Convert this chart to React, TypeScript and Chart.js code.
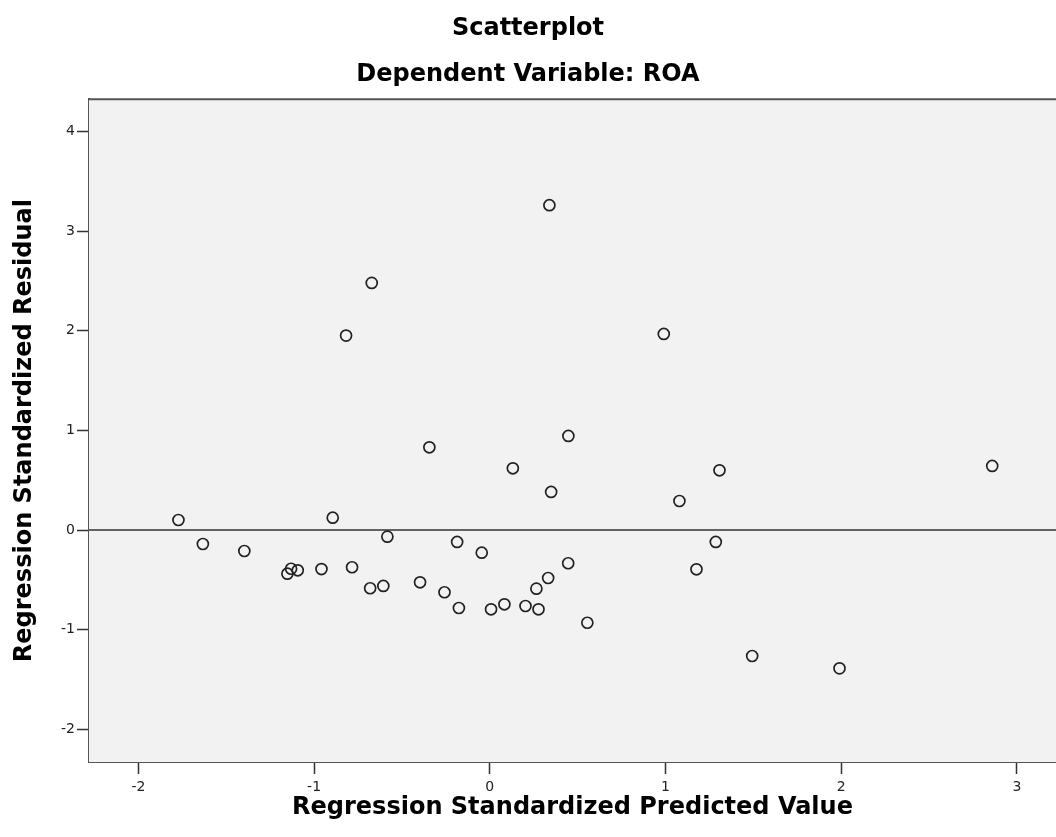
import React, { useEffect, useRef } from "react";
import { Chart, registerables } from "chart.js";

Chart.register(...registerables);

const predictedValues = [
  -1.772, -1.633, -1.397, -1.152, -1.131, -1.093, -0.958, -0.894, -0.784, -0.818,
  -0.681, -0.672, -0.606, -0.583, -0.397, -0.344, -0.258, -0.186, -0.176, -0.046,
  0.007, 0.083, 0.131, 0.203, 0.265, 0.277, 0.332, 0.339, 0.349, 0.446,
  0.447, 0.555, 0.99, 1.079, 1.176, 1.286, 1.307, 1.493, 1.99, 2.859,
];
const residualValues = [
  0.101, -0.14, -0.21, -0.438, -0.388, -0.404, -0.391, 0.124, -0.373, 1.952,
  -0.584, 2.481, -0.561, -0.066, -0.524, 0.831, -0.624, -0.119, -0.782, -0.227,
  -0.795, -0.745, 0.62, -0.762, -0.588, -0.795, -0.481, 3.261, 0.383, -0.333,
  0.945, -0.93, 1.969, 0.292, -0.394, -0.119, 0.6, -1.264, -1.388, 0.644,
];
const xTickValues = [-2, -1, 0, 1, 2, 3];
const yTickValues = [-2, -1, 0, 1, 2, 3, 4];
const referenceY = [0];

const chartTitle = "Scatterplot";
const chartSubtitle = "Dependent Variable: ROA";
const xAxisTitle = "Regression Standardized Predicted Value";
const yAxisTitle = "Regression Standardized Residual";

const TITLE_FONT = "'DejaVu Sans', sans-serif";
const TICK_FONT = "'DejaVu Sans', sans-serif";

const plotFrame = {
  id: "plotFrame",
  beforeDatasetsDraw(chart: any) {
    const { ctx, chartArea } = chart;
    const { left, top, right, bottom } = chartArea;
    ctx.save();
    ctx.fillStyle = "#f2f2f2";
    ctx.fillRect(left, top, right - left, bottom - top);
    ctx.strokeStyle = "#555555";
    ctx.lineWidth = 2;
    ctx.beginPath();
    ctx.moveTo(left, top);
    ctx.lineTo(right, top);
    ctx.stroke();
    const yScale = chart.scales.y;
    ctx.strokeStyle = "#333333";
    ctx.lineWidth = 1.5;
    referenceY.forEach((v) => {
      const py = yScale.getPixelForValue(v);
      ctx.beginPath();
      ctx.moveTo(left, py);
      ctx.lineTo(right, py);
      ctx.stroke();
    });
    ctx.restore();
  },
};

export default function App() {
  const canvasRef = useRef<HTMLCanvasElement | null>(null);

  useEffect(() => {
    if (!canvasRef.current) return;
    const points = predictedValues.map((x, i) => ({ x, y: residualValues[i] }));
    const chart = new Chart(canvasRef.current, {
      type: "scatter",
      data: {
        datasets: [
          {
            data: points,
            pointStyle: "circle",
            pointRadius: 5.5,
            pointHoverRadius: 5.5,
            borderWidth: 1.7,
            borderColor: "#222222",
            backgroundColor: "rgba(0,0,0,0)",
          },
        ],
      },
      options: {
        animation: false,
        responsive: false,
        maintainAspectRatio: false,
        devicePixelRatio: 1,
        layout: { autoPadding: false, padding: { top: 0, left: 0, right: 0, bottom: 0 } },
        plugins: {
          legend: { display: false },
          tooltip: { enabled: false },
          title: {
            display: true,
            text: chartTitle,
            color: "#000",
            font: { family: TITLE_FONT, size: 24, weight: "bold", lineHeight: 1.2 },
            padding: { top: 14, bottom: 18 },
          },
          subtitle: {
            display: true,
            text: chartSubtitle,
            color: "#000",
            font: { family: TITLE_FONT, size: 24, weight: "bold", lineHeight: 1.2 },
            padding: { top: 0, bottom: 9.6 },
          },
        },
        scales: {
          x: {
            type: "linear",
            min: -2.281,
            max: 3.222,
            afterFit: (s: any) => {
              s.height = 75;
            },
            afterBuildTicks: (s: any) => {
              s.ticks = xTickValues.map((v) => ({ value: v }));
            },
            grid: {
              display: true,
              drawOnChartArea: false,
              drawTicks: true,
              tickLength: 12,
              tickColor: "#333",
              tickWidth: 1.5,
            },
            border: { display: true, color: "#555555", width: 2 },
            ticks: {
              color: "#222",
              padding: 5,
              font: { family: TICK_FONT, size: 14 },
              callback: (v: any) => String(v),
            },
            title: {
              display: true,
              text: xAxisTitle,
              color: "#000",
              font: { family: TITLE_FONT, size: 24, weight: "bold", lineHeight: 1.2 },
              padding: { top: 0, bottom: 15 },
            },
          },
          y: {
            type: "linear",
            min: -2.328,
            max: 4.325,
            afterFit: (s: any) => {
              s.width = 89;
            },
            afterBuildTicks: (s: any) => {
              s.ticks = yTickValues.map((v) => ({ value: v }));
            },
            grid: {
              display: true,
              drawOnChartArea: false,
              drawTicks: true,
              tickLength: 12,
              tickColor: "#333",
              tickWidth: 1.5,
            },
            border: { display: true, color: "#555555", width: 2 },
            ticks: {
              color: "#222",
              padding: 2,
              font: { family: TICK_FONT, size: 14 },
              callback: (v: any) => String(v),
            },
            title: {
              display: true,
              text: yAxisTitle,
              color: "#000",
              font: { family: TITLE_FONT, size: 24, weight: "bold", lineHeight: 1.2 },
              padding: { top: 10.6, bottom: 0 },
            },
          },
        },
      },
      plugins: [plotFrame],
    });
    return () => chart.destroy();
  }, []);

  return (
    <div style={{ position: "absolute", left: 0, top: 0, width: 1056, height: 837, background: "#fff", overflow: "hidden" }}>
      <canvas ref={canvasRef} width={1056} height={837} style={{ display: "block", width: 1056, height: 837 }} />
    </div>
  );
}
